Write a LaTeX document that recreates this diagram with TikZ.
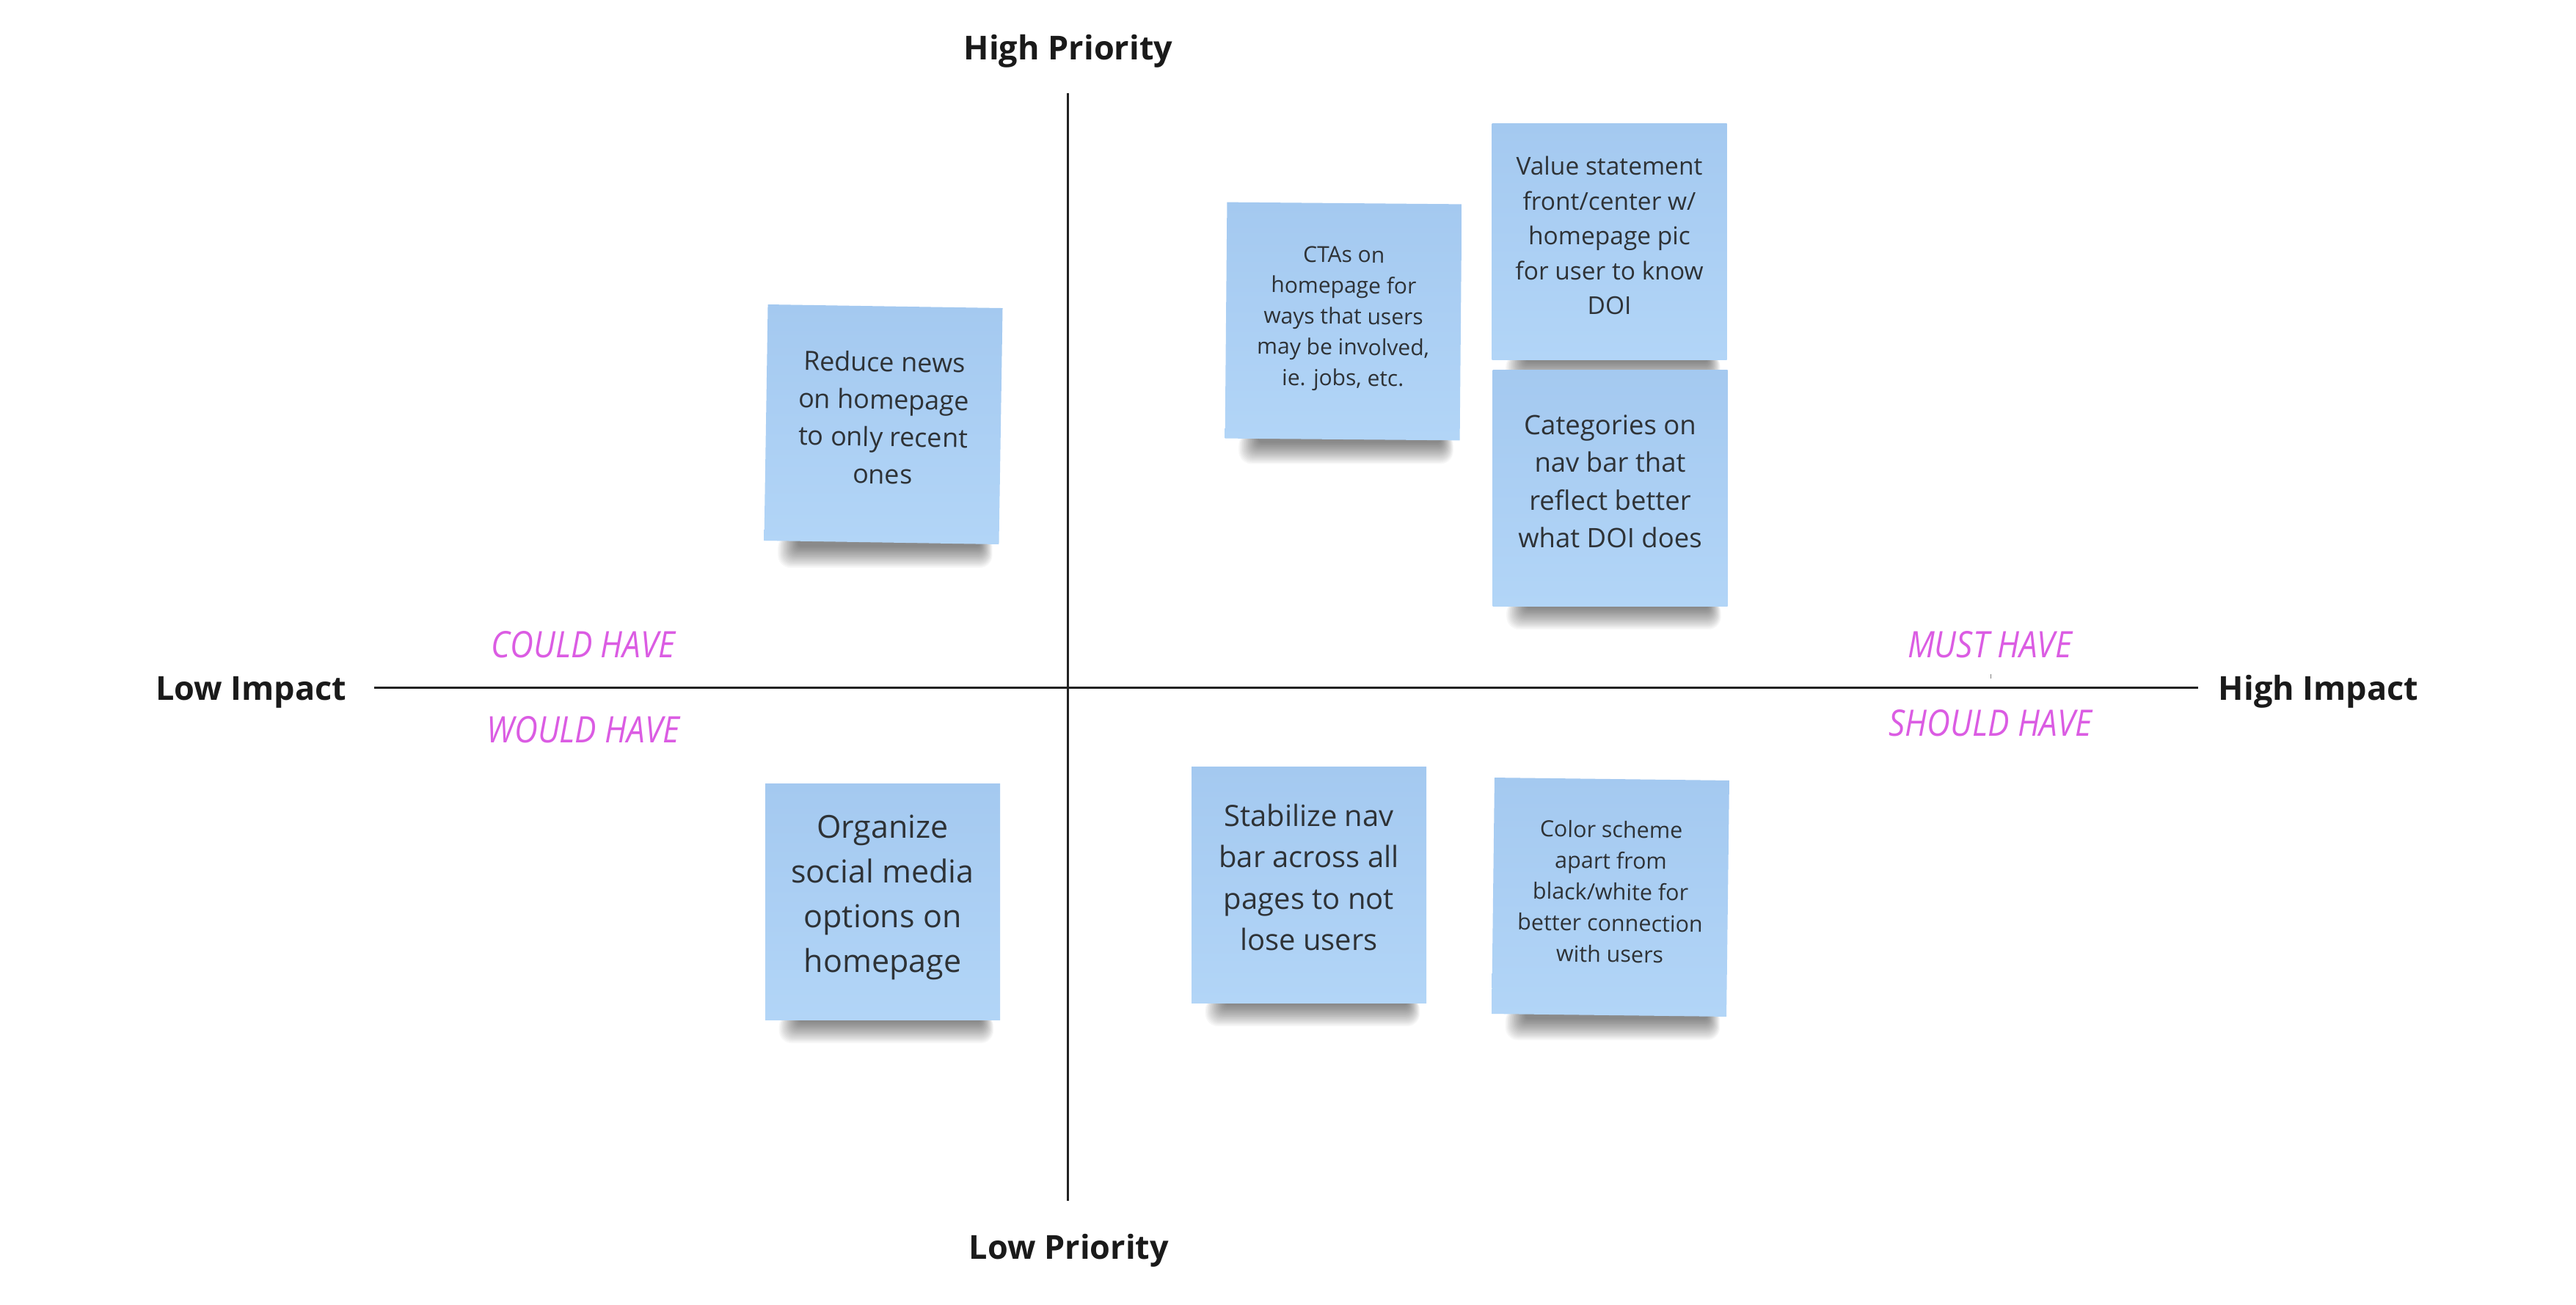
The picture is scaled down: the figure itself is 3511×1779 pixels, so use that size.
\documentclass[tikz,border=0pt]{standalone}
\usepackage{fontspec}
\setmainfont{Open Sans}
\usetikzlibrary{calc}
\definecolor{stickytop}{HTML}{A4C9F0}
\definecolor{stickybot}{HTML}{B2D5F7}
\definecolor{stickytext}{HTML}{2E3236}
\definecolor{headtext}{HTML}{1A1A1A}
\definecolor{moscow}{HTML}{DB5CE3}
\definecolor{axiscol}{HTML}{222222}
\pgfdeclarelayer{back}
\pgfdeclarelayer{bg}
\pgfsetlayers{back,bg,main}
\newcommand\fl{\rule{0pt}{0.9em}}
\newcommand\lastln{\rule[-0.65em]{0pt}{0pt}}
\newcommand\stickyshadow[1]{%
  \begin{pgfonlayer}{bg}
  \foreach \i in {0,...,17}{
    \fill[black, opacity=0.032, rounded corners=4pt+0.8pt*\i]
      ($(#1.south west)+(46-1.6*\i,-8)$) rectangle ($(#1.south east)+(-26+1.0*\i,3+1.7*\i)$);
  }
  \end{pgfonlayer}}
\tikzset{
  sticky/.style={minimum width=320pt, minimum height=322pt, inner sep=0pt,
    top color=stickytop, bottom color=stickybot, text=stickytext, align=center},
  head/.style={font=\bfseries\fontsize{45}{54}\selectfont, text=headtext, inner sep=0pt, anchor=base},
  mlabel/.style={font=\itshape\fontsize{44}{50}\selectfont, text=moscow, inner sep=0pt, anchor=base},
  axisline/.style={draw=axiscol, line width=3pt},
}
\newcommand\tall[1]{\scalebox{1}[1.13]{#1}}
\begin{document}
\begin{tikzpicture}[x=1pt,y=-1pt]
\useasboundingbox (0,0) rectangle (3511,1779);
\begin{pgfonlayer}{back}
\fill[white] (0,0) rectangle (3511,1779);
\end{pgfonlayer}

% axes
\coordinate (vtop) at (1455.5,127);
\coordinate (vbot) at (1455.5,1637);
\coordinate (hl) at (510,937);
\coordinate (hr) at (2996,937);
\draw[axisline] (vtop) -- (vbot);
\draw[axisline] (hl) -- (hr);
\coordinate (tka) at (2713,919);
\coordinate (tkb) at (2713,925);
\draw[gray, line width=1pt] (tka) -- (tkb);

% headings
\node[head] (hp) at (1456,82) {High Priority};
\node[head] (lp) at (1457,1716) {Low Priority};
\node[head] (li) at (342,954) {Low Impact};
\node[head] (hi) at (3160,954) {High Impact};

% MoSCoW labels
\node[mlabel] (could) at (795,896) {\tall{COULD HAVE}};
\node[mlabel] (would) at (795,1012) {\tall{WOULD HAVE}};
\node[mlabel] (must) at (2712,896) {\tall{MUST HAVE}};
\node[mlabel] (should) at (2713,1003) {\tall{SHOULD HAVE}};

% stickies
\node[sticky, rotate=-0.9, font=\fontsize{36}{51}\selectfont] (s1) at (1204,578.5)
  {\fl Reduce news\\on homepage\\to only recent\\ones\lastln};
\stickyshadow{s1}
\node[sticky, rotate=-0.5, font=\fontsize{30}{42}\selectfont] (s2) at (1831,438)
  {\fl CTAs on\\homepage for\\ways that users\\may be involved,\\ie. jobs, etc.\lastln};
\stickyshadow{s2}
\node[sticky, font=\fontsize{33.5}{47.5}\selectfont] (s3) at (2193.5,329.5)
  {\fl Value statement\\front/center w/\\homepage pic\\for user to know\\DOI\lastln};
\stickyshadow{s3}
\node[sticky, font=\fontsize{36.5}{51.5}\selectfont] (s4) at (2194.5,665)
  {\fl Categories on\\nav bar that\\reflect better\\what DOI does\lastln};
\stickyshadow{s4}
\node[sticky, font=\fontsize{43}{61}\selectfont] (s5) at (1203,1229)
  {\fl Organize\\social media\\options on\\homepage\lastln};
\stickyshadow{s5}
\node[sticky, font=\fontsize{40}{56.5}\selectfont] (s6) at (1784,1206)
  {\fl Stabilize nav\\bar across all\\pages to not\\lose users\lastln};
\stickyshadow{s6}
\node[sticky, rotate=-0.7, font=\fontsize{30.5}{42.5}\selectfont] (s7) at (2195,1223)
  {\fl Color scheme\\apart from\\black/white for\\better connection\\with users\lastln};
\stickyshadow{s7}
\end{tikzpicture}
\end{document}
